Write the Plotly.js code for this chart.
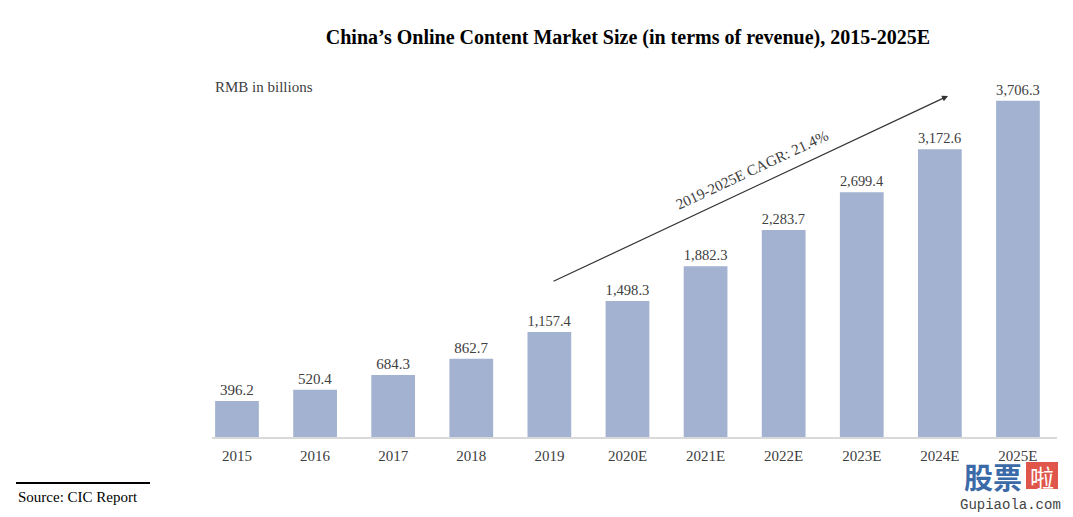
<!DOCTYPE html>
<html>
<head>
<meta charset="utf-8">
<script src="https://cdn.plot.ly/plotly-3.0.1.min.js"></script>
<style>html,body{margin:0;padding:0;background:#fff;}#chart{width:1073px;height:517px;}</style>
</head>
<body>
<div id="chart"></div>
<script>
var years = ["2015","2016","2017","2018","2019","2020E","2021E","2022E","2023E","2024E","2025E"];
var revenue = [396.2, 520.4, 684.3, 862.7, 1157.4, 1498.3, 1882.3, 2283.7, 2699.4, 3172.6, 3706.3];
var chartTitle = "China’s Online Content Market Size (in terms of revenue), 2015-2025E";
var unitLabel = "RMB in billions";
var cagrLabel = "2019-2025E CAGR: 21.4%";
var sourceLabel = "Source: CIC Report";

var W = 1073, H = 517;
var M = {l: 212, r: 16, t: 60, b: 80};
function px(x) { return (x - M.l) / (W - M.l - M.r); }
function py(y) { return (H - M.b - y) / (H - M.t - M.b); }

var serif = "Liberation Serif, Times New Roman, serif";

var trace = {
  type: "bar",
  x: years,
  y: revenue,
  marker: {color: "#a2b2d0"},
  texttemplate: "%{y:,.1f}",
  textposition: "outside",
  cliponaxis: false,
  textfont: {family: serif, size: 15, color: "#404040"},
  hoverinfo: "none"
};

var layout = {
  width: W, height: H,
  margin: M,
  paper_bgcolor: "#fff",
  plot_bgcolor: "#fff",
  showlegend: false,
  bargap: 0.44,
  font: {family: serif, size: 15, color: "#404040"},
  title: {
    text: "<b>" + chartTitle + "</b>",
    font: {family: serif, size: 20, color: "#000"},
    x: 628 / W, xanchor: "center", xref: "container",
    y: 1 - 37 / H, yanchor: "middle", yref: "container"
  },
  xaxis: {
    type: "category",
    range: [-0.32, 10.5],
    showline: true, linecolor: "#d9d9d9", linewidth: 2,
    ticks: "", showgrid: false, zeroline: false,
    ticklabelstandoff: 4,
    tickfont: {family: serif, size: 15, color: "#404040"}
  },
  yaxis: {
    range: [0, 4157],
    visible: false, showgrid: false, zeroline: false
  },
  shapes: [
    {type: "line", xref: "paper", yref: "paper", x0: px(16), x1: px(150), y0: py(483), y1: py(483),
     line: {color: "#000", width: 2}},
    {type: "rect", xref: "paper", yref: "paper", x0: px(1026), x1: px(1058), y0: py(489), y1: py(462),
     fillcolor: "#e0564a", line: {width: 0}}
  ],
  annotations: [
    {text: unitLabel, xref: "paper", yref: "paper", x: px(213), y: py(87), xanchor: "left", yanchor: "middle",
     showarrow: false, font: {family: serif, size: 15, color: "#404040"}},
    {text: "", xref: "paper", yref: "paper", x: px(948), y: py(96), ax: 552 - 948, ay: 282 - 96,
     showarrow: true, arrowhead: 2, arrowsize: 1, arrowwidth: 1.2, arrowcolor: "#333", standoff: 0},
    {text: cagrLabel, xref: "paper", yref: "paper", x: px(752), y: py(170), xanchor: "center", yanchor: "middle",
     textangle: -25.2, showarrow: false, font: {family: serif, size: 15, color: "#404040"}},
    {text: sourceLabel, xref: "paper", yref: "paper", x: px(16), y: py(497), xanchor: "left", yanchor: "middle",
     showarrow: false, font: {family: serif, size: 15, color: "#000"}},
    {text: "<b>股票</b>", xref: "paper", yref: "paper", x: px(962), y: py(476), xanchor: "left", yanchor: "middle",
     showarrow: false, font: {family: "Noto Sans CJK SC", size: 29, color: "#3b6aa8"}},
    {text: "啦", xref: "paper", yref: "paper", x: px(1042), y: py(476), xanchor: "center", yanchor: "middle",
     showarrow: false, font: {family: "Noto Sans CJK SC", size: 24, color: "#fff"}},
    {text: "Gupiaola.com", xref: "paper", yref: "paper", x: px(1010), y: py(505), xanchor: "center", yanchor: "middle",
     showarrow: false, font: {family: "Liberation Mono, monospace", size: 14, color: "#444"}}
  ]
};

Plotly.newPlot("chart", [trace], layout, {displayModeBar: false, staticPlot: true});
</script>
</body>
</html>
